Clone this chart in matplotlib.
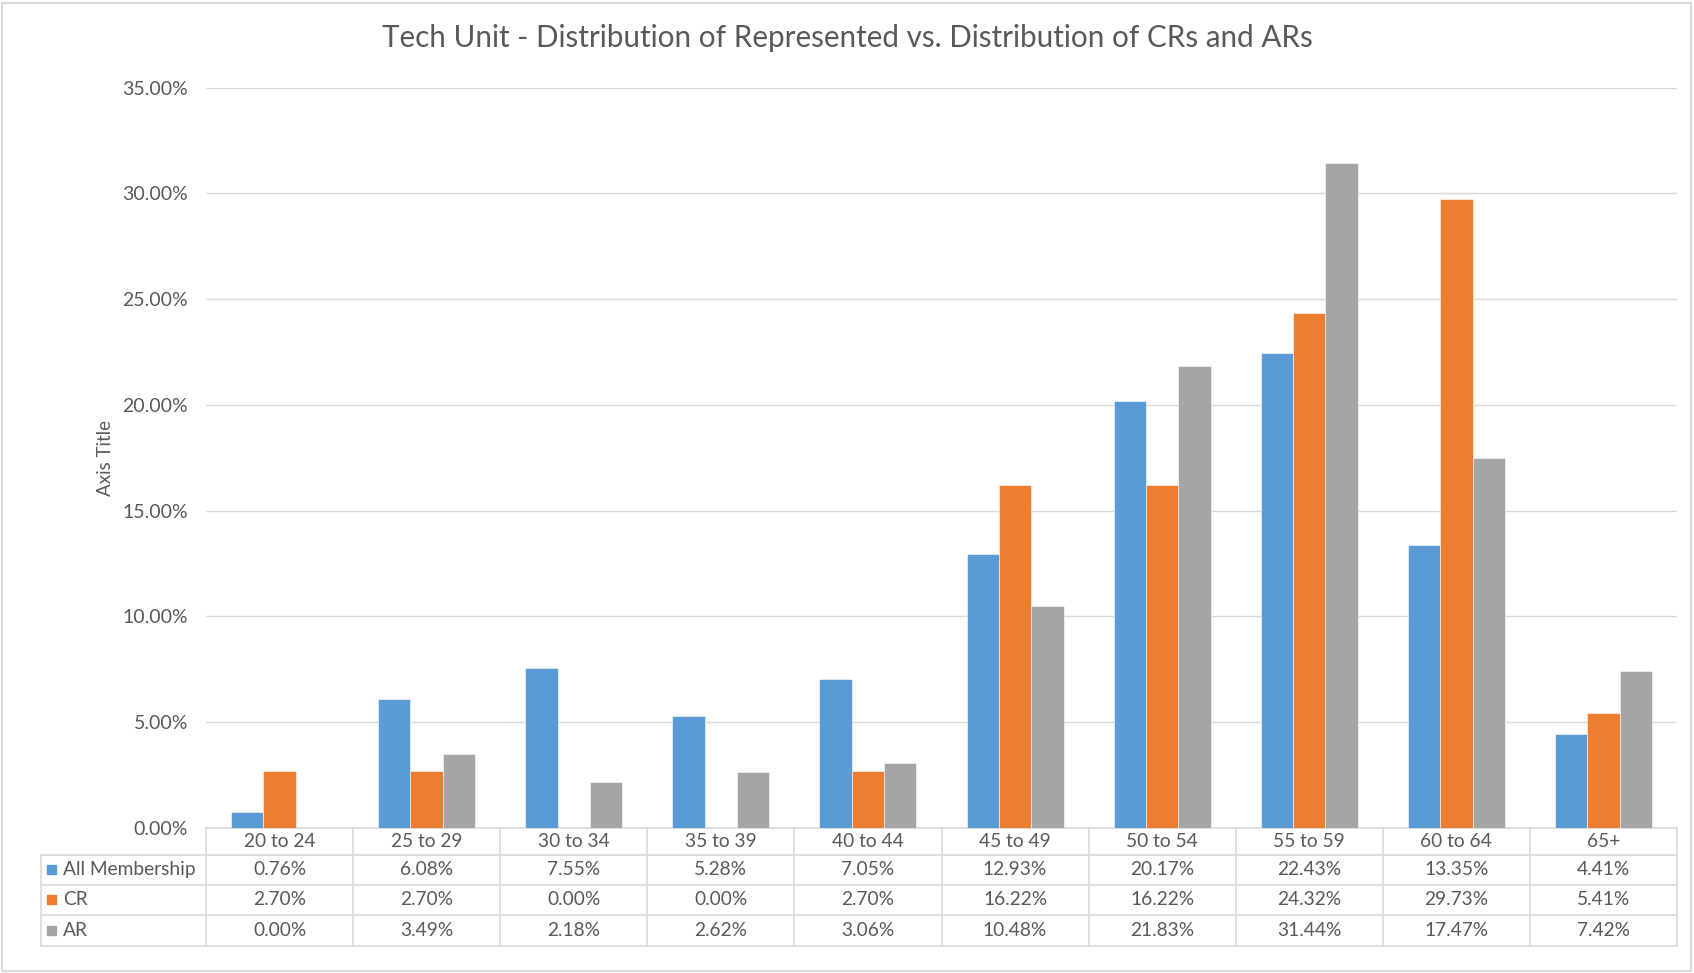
import matplotlib
matplotlib.use("Agg")
import matplotlib.pyplot as plt
from matplotlib.lines import Line2D
from matplotlib.patches import Rectangle
from matplotlib.transforms import blended_transform_factory
import numpy as np

categories = ["20 to 24", "25 to 29", "30 to 34", "35 to 39", "40 to 44",
              "45 to 49", "50 to 54", "55 to 59", "60 to 64", "65+"]
all_membership = [0.76, 6.08, 7.55, 5.28, 7.05, 12.93, 20.17, 22.43, 13.35, 4.41]
cr = [2.70, 2.70, 0.00, 0.00, 2.70, 16.22, 16.22, 24.32, 29.73, 5.41]
ar = [0.00, 3.49, 2.18, 2.62, 3.06, 10.48, 21.83, 31.44, 17.47, 7.42]
series_names = ["All Membership", "CR", "AR"]
yticks = [0, 5, 10, 15, 20, 25, 30, 35]

colors = ["#5B9BD5", "#ED7D31", "#A5A5A5"]
text_color = "#595959"
grid_color = "#D9D9D9"

plt.rcParams['font.family'] = ['Lato', 'DejaVu Sans']

W, H = 1694, 973
fig = plt.figure(figsize=(W / 100, H / 100), dpi=100)

# plot area in pixels
x0, x1 = 206, 1677
y_top, y_bot = 87.7, 827.6
ax = fig.add_axes([x0 / W, 1 - y_bot / H, (x1 - x0) / W, (y_bot - y_top) / H])

series = [all_membership, cr, ar]
x = np.arange(len(categories))
bw = 0.22
for i, (vals, c) in enumerate(zip(series, colors)):
    ax.bar(x + (i - 1) * bw, vals, width=bw, color=c, edgecolor="white",
           linewidth=0.4, zorder=3)

tick_fs = 14
table_fs = 13.8

ax.set_xlim(-0.5, len(categories) - 0.5)
ax.set_ylim(0, 35)
ax.set_yticks(yticks)
ax.set_yticklabels([f"{t:.2f}%" for t in yticks], fontsize=tick_fs, color=text_color)
ax.set_xticks([])
ax.tick_params(axis='y', length=0, pad=13)
ax.grid(axis='y', color=grid_color, linewidth=1, zorder=0)
for s in ax.spines.values():
    s.set_visible(False)

ax.set_ylabel("Axis Title", fontsize=13.5, color=text_color, labelpad=0)
ax.yaxis.set_label_coords((114 - x0) / (x1 - x0), 0.5)

fig.text(0.5 * (355 + 1214) * 1.0804 / W, 1 - 38 / H,
         "Tech Unit - Distribution of Represented vs. Distribution of CRs and ARs",
         ha="center", va="center", fontsize=21.3, color=text_color)

# data table
axh = y_bot - y_top
def ay(py):
    return (y_bot - py) / axh
def axx(px):
    return (px - x0) / (x1 - x0)

row_edges = [827.6, 854.6, 884.8, 915.0, 946.4]
left_px = 41
blend = blended_transform_factory(ax.transData, ax.transAxes)

lw = 1.2
# horizontal lines
ax.add_line(Line2D([0, 1], [ay(row_edges[0])] * 2, transform=ax.transAxes,
                   color=grid_color, lw=lw, clip_on=False))
for py in row_edges[1:]:
    ax.add_line(Line2D([axx(left_px), 1], [ay(py)] * 2, transform=ax.transAxes,
                       color=grid_color, lw=lw, clip_on=False))
# vertical lines
for b in np.arange(len(categories) + 1) - 0.5:
    ax.add_line(Line2D([b, b], [ay(row_edges[0]), ay(row_edges[-1])], transform=blend,
                       color=grid_color, lw=lw, clip_on=False))
ax.add_line(Line2D([axx(left_px)] * 2, [ay(row_edges[1]), ay(row_edges[-1])],
                   transform=ax.transAxes, color=grid_color, lw=lw, clip_on=False))

# header labels
for i, cat in enumerate(categories):
    ax.text(i, ay(0.5 * (row_edges[0] + row_edges[1])), cat, transform=blend,
            ha="center", va="center", fontsize=table_fs, color=text_color, clip_on=False)

# rows
for r, (name, vals, c) in enumerate(zip(series_names, series, colors)):
    yc = ay(0.5 * (row_edges[r + 1] + row_edges[r + 2]))
    ax.add_patch(Rectangle((axx(47), yc - ay(0) + ay(4.5)), axx(56) - axx(47),
                           ay(0) - ay(9), transform=ax.transAxes, color=c,
                           clip_on=False))
    ax.text(axx(63), yc, name, transform=ax.transAxes, ha="left", va="center",
            fontsize=table_fs, color=text_color, clip_on=False)
    for i, v in enumerate(vals):
        ax.text(i, yc, f"{v:.2f}%", transform=blend, ha="center", va="center",
                fontsize=table_fs, color=text_color, clip_on=False)

# outer border
fig.patches.append(Rectangle((2 / W, 2 / H), 1 - 5 / W, 1 - 5 / H,
                             transform=fig.transFigure, fill=False,
                             edgecolor=grid_color, linewidth=1.5))

fig.savefig("out.png", dpi=100, facecolor="white")
